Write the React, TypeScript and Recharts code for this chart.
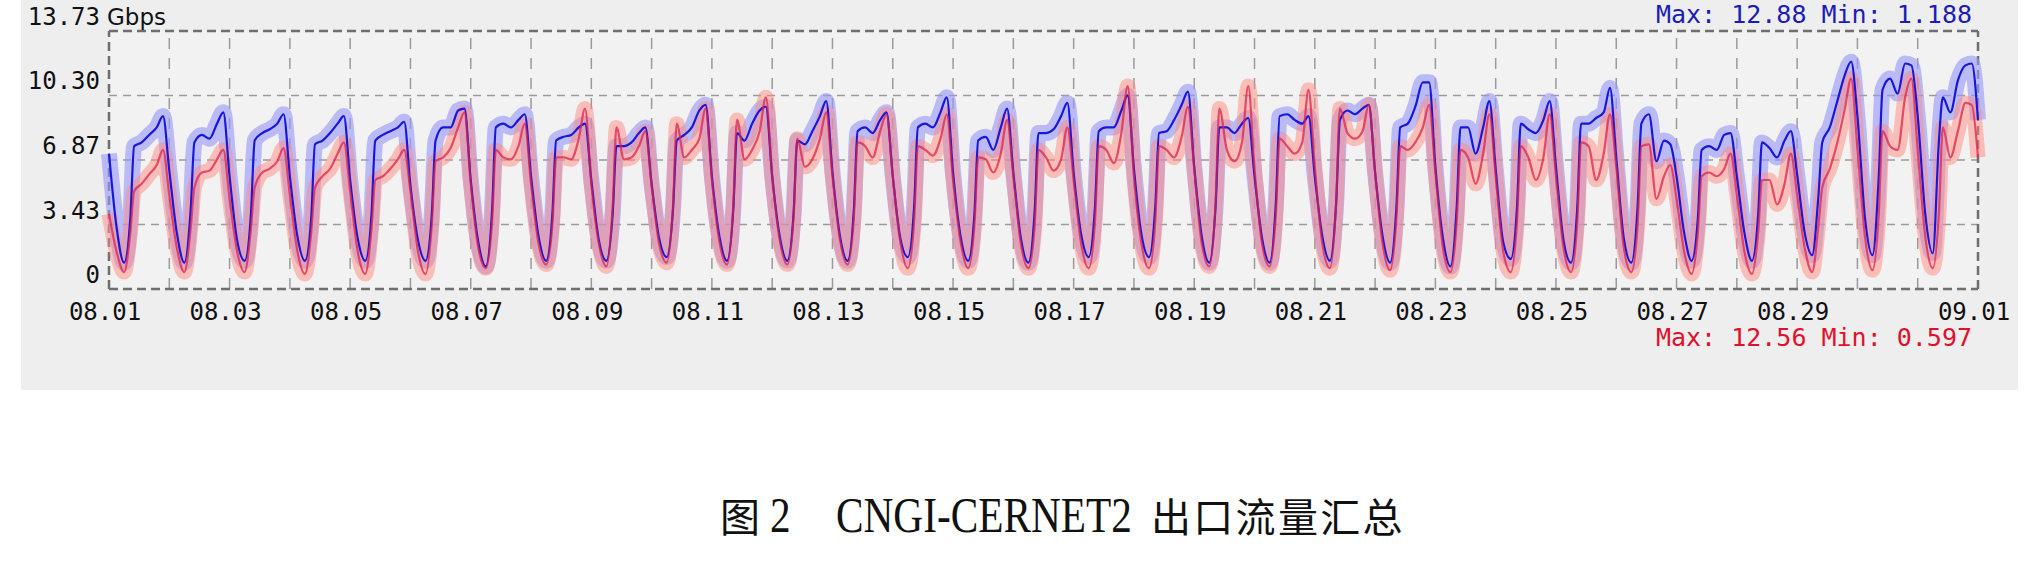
import React from 'react';
import { LineChart, Line, XAxis, YAxis, ReferenceLine, ReferenceArea } from 'recharts';

// sample hours inside each day (08.01 00:00 = day 0)
const HOURS = [0, 3, 6, 8.5, 10, 13, 16, 19, 21.5];

// blue series, Gbps, one row per day
const blueSeries = [
  [7.2, 3.3, 1.4, 3.8, 7.6, 7.8, 8.2, 8.6, 9.2],
  [6.3, 3.0, 1.4, 4.2, 7.8, 8.2, 8.0, 8.8, 9.4],
  [6.0, 2.6, 1.5, 4.0, 7.9, 8.3, 8.5, 8.8, 9.3],
  [6.0, 2.8, 1.5, 3.8, 7.7, 7.9, 8.3, 8.8, 9.2],
  [5.8, 2.7, 1.5, 4.0, 7.9, 8.2, 8.4, 8.6, 8.9],
  [5.5, 2.6, 1.5, 4.0, 7.9, 8.6, 8.6, 9.5, 9.6],
  [5.8, 2.5, 1.2, 4.2, 8.6, 8.8, 8.6, 9.0, 9.3],
  [6.0, 2.8, 1.5, 4.0, 7.9, 8.1, 8.2, 8.6, 8.8],
  [5.8, 2.6, 1.5, 4.0, 7.6, 7.6, 7.8, 8.3, 8.6],
  [5.6, 2.7, 1.7, 4.2, 7.9, 8.2, 8.6, 9.5, 9.8],
  [6.0, 2.8, 1.5, 4.2, 8.3, 7.9, 8.8, 9.5, 9.7],
  [6.0, 2.8, 1.5, 4.0, 7.9, 7.7, 8.4, 9.2, 10.0],
  [6.2, 2.8, 1.5, 4.2, 8.4, 8.6, 8.3, 9.0, 9.4],
  [6.0, 2.7, 1.7, 4.4, 8.6, 8.8, 8.6, 9.4, 10.2],
  [6.2, 2.8, 1.5, 4.0, 7.9, 8.1, 7.4, 8.6, 9.6],
  [6.2, 2.7, 1.4, 4.2, 8.3, 8.3, 8.5, 9.2, 9.9],
  [6.2, 2.9, 1.7, 4.4, 8.4, 8.6, 8.6, 9.5, 10.3],
  [6.4, 2.9, 1.7, 4.4, 8.3, 8.4, 9.0, 9.8, 10.5],
  [6.5, 2.8, 1.4, 4.4, 8.6, 8.6, 8.3, 8.8, 9.1],
  [6.0, 2.7, 1.4, 4.6, 9.2, 9.3, 9.0, 8.8, 9.2],
  [6.0, 2.8, 1.5, 4.6, 9.0, 9.5, 9.3, 9.6, 9.8],
  [6.2, 2.8, 1.4, 4.4, 8.6, 8.8, 9.7, 11.0, 11.0],
  [6.5, 2.7, 1.2, 4.4, 8.6, 8.6, 7.2, 8.6, 10.0],
  [6.4, 2.5, 1.6, 4.4, 8.8, 8.5, 8.3, 9.0, 10.0],
  [6.5, 2.6, 1.4, 4.4, 8.8, 8.8, 9.1, 9.4, 10.7],
  [7.0, 2.7, 1.4, 4.4, 8.8, 9.3, 6.8, 7.9, 7.7],
  [6.0, 3.0, 1.5, 3.8, 7.4, 7.6, 7.4, 8.2, 8.3],
  [6.0, 3.0, 1.5, 4.0, 7.8, 7.5, 7.0, 7.9, 8.4],
  [6.1, 3.0, 1.8, 5.0, 7.8, 8.6, 10.0, 11.4, 12.1],
  [9.2, 3.8, 1.8, 6.0, 10.6, 11.2, 10.4, 12.0, 11.9],
  [9.2, 4.0, 1.9, 8.0, 10.2, 9.4, 11.1, 11.9, 12.0],
];
const blueLast = 9.0;

// red series, Gbps, one row per day
const redSeries = [
  [4.0, 2.0, 0.9, 3.0, 5.2, 5.6, 6.1, 6.6, 7.4],
  [5.0, 2.2, 0.9, 3.2, 5.4, 6.2, 6.3, 6.9, 7.4],
  [4.8, 2.0, 0.9, 3.2, 5.4, 6.2, 6.4, 6.8, 7.5],
  [5.0, 2.0, 0.8, 3.0, 5.4, 6.0, 6.4, 7.2, 7.8],
  [5.2, 2.0, 0.8, 3.2, 5.8, 6.0, 6.4, 6.9, 7.4],
  [5.2, 2.0, 0.8, 3.4, 6.8, 7.0, 7.5, 8.6, 9.4],
  [5.6, 2.2, 1.1, 3.6, 7.4, 7.0, 6.9, 7.6, 8.8],
  [5.6, 2.4, 1.3, 3.4, 7.0, 7.0, 6.9, 8.0, 9.6],
  [5.6, 2.4, 1.2, 4.4, 8.6, 6.9, 7.0, 7.6, 8.4],
  [5.5, 2.4, 1.4, 4.4, 8.8, 7.0, 7.4, 8.0, 9.6],
  [5.8, 2.5, 1.3, 4.4, 9.0, 6.9, 7.4, 8.4, 10.2],
  [6.0, 2.6, 1.3, 3.8, 8.0, 6.5, 6.9, 8.0, 9.4],
  [6.0, 2.6, 1.3, 3.8, 7.8, 7.6, 7.0, 8.4, 9.3],
  [6.0, 2.5, 1.1, 3.6, 7.6, 7.4, 7.1, 8.0, 9.3],
  [5.8, 2.5, 1.1, 3.4, 7.0, 6.9, 6.2, 7.2, 9.0],
  [6.0, 2.4, 1.1, 3.4, 7.4, 7.0, 6.3, 6.9, 8.6],
  [5.8, 2.4, 1.1, 3.6, 7.6, 7.4, 6.7, 8.3, 10.8],
  [6.0, 2.4, 1.1, 3.6, 7.6, 7.4, 7.0, 8.1, 9.7],
  [6.4, 2.4, 1.2, 4.6, 9.6, 7.4, 6.8, 7.8, 10.8],
  [6.4, 2.4, 1.2, 4.0, 8.0, 7.6, 7.2, 7.8, 10.6],
  [6.5, 2.4, 1.1, 4.6, 9.6, 8.3, 8.0, 8.4, 9.8],
  [6.2, 2.4, 1.0, 3.8, 7.6, 7.4, 7.8, 8.6, 9.8],
  [6.2, 2.2, 0.9, 3.6, 7.4, 7.0, 5.6, 7.2, 9.3],
  [6.0, 2.0, 0.9, 3.6, 7.6, 7.0, 5.8, 7.0, 9.3],
  [6.0, 2.2, 0.9, 3.6, 7.8, 7.6, 5.8, 7.2, 9.3],
  [6.5, 2.2, 0.9, 3.4, 7.6, 7.7, 4.8, 6.0, 6.6],
  [4.8, 2.0, 0.8, 3.0, 6.0, 6.2, 6.0, 6.4, 7.2],
  [5.0, 2.0, 0.8, 3.0, 5.8, 5.8, 4.5, 5.6, 7.2],
  [5.0, 2.2, 0.9, 3.4, 5.4, 6.4, 7.8, 9.6, 11.2],
  [7.5, 2.8, 1.0, 4.0, 8.4, 7.6, 7.4, 10.2, 11.2],
  [7.4, 2.8, 1.1, 4.2, 8.6, 7.0, 8.4, 9.9, 9.8],
];
const redLast = 7.0;

const dayTicks = [0, 2, 4, 6, 8, 10, 12, 14, 16, 18, 20, 22, 24, 26, 28, 31];
const dayLabels = ['08.01', '08.03', '08.05', '08.07', '08.09', '08.11', '08.13', '08.15',
  '08.17', '08.19', '08.21', '08.23', '08.25', '08.27', '08.29', '09.01'];
const gridDays = [1, 2, 3, 4, 5, 6, 7, 8, 9, 10, 11, 12, 13, 14, 15, 16, 17, 18, 19, 20,
  21, 22, 23, 24, 25, 26, 27, 28, 29, 30];
const yTicks = [0, 3.43, 6.87, 10.3, 13.73];
const yLabels = ['0', '3.43', '6.87', '10.30', '13.73'];
const unit = 'Gbps';
const blueStats = 'Max: 12.88 Min: 1.188';
const redStats = 'Max: 12.56 Min: 0.597';

const data = blueSeries
  .flatMap((row, d) => row.map((v, i) => ({ t: d + HOURS[i] / 24, blue: v, red: redSeries[d][i] })))
  .concat([{ t: 31, blue: blueLast, red: redLast }]);

const MONO = '"DejaVu Sans Mono", monospace';
const SERIF = '"Liberation Serif", serif';
const CJK = '"Noto Sans CJK SC", sans-serif';

const XTick = (props: any) => {
  const { x, y, payload } = props;
  const i = dayTicks.indexOf(payload.value);
  return (
    <text x={x - 4} y={y + 31} textAnchor="middle" fontFamily={MONO} fontSize={24} fill="#111">
      {dayLabels[i]}
    </text>
  );
};

const YTick = (props: any) => {
  const { x, y, payload } = props;
  const i = yTicks.indexOf(payload.value);
  const top = i === yTicks.length - 1;
  return (
    <g>
      <text x={x} y={y - 6} textAnchor="end" fontFamily={MONO} fontSize={24} fill="#111">
        {yLabels[i]}
      </text>
      {top && (
        <text x={x + 7} y={y - 6} fontFamily='"DejaVu Sans", sans-serif' fontSize={23} fill="#111">
          {unit}
        </text>
      )}
    </g>
  );
};

export default function App() {
  return (
    <div style={{ position: 'absolute', left: 0, top: 0, width: 2030, height: 584, background: '#fff', overflow: 'hidden' }}>
      <div style={{ position: 'absolute', left: 21, top: 0, width: 1997, height: 390, background: '#eeeeee' }} />
      <div style={{ position: 'absolute', left: 0, top: 0 }}>
        <LineChart width={2030} height={400} data={data} margin={{ top: 31, right: 52, bottom: 71, left: 0 }}>
          <XAxis
            dataKey="t"
            type="number"
            domain={[0, 31]}
            ticks={dayTicks}
            interval={0}
            height={40}
            axisLine={false}
            tickLine={false}
            tickSize={0}
            tickMargin={0}
            tick={<XTick />}
          />
          <YAxis
            type="number"
            domain={[0, 13.73]}
            ticks={yTicks}
            interval={0}
            width={109}
            axisLine={false}
            tickLine={false}
            tickSize={0}
            tickMargin={9}
            tick={<YTick />}
            allowDataOverflow
          />
          <ReferenceArea x1={0} x2={31} y1={0} y2={13.73} fill="#f2f2f2" fillOpacity={1} stroke="none" />
          {gridDays.map((d) => (
            <ReferenceLine key={'v' + d} x={d} stroke="#9a9a9a" strokeWidth={1.5} strokeDasharray="11 9" />
          ))}
          {yTicks.slice(1, -1).map((v) => (
            <ReferenceLine key={'h' + v} y={v} stroke="#9a9a9a" strokeWidth={1.5} strokeDasharray="8 6" />
          ))}
          <ReferenceLine y={0} stroke="#6e6e6e" strokeWidth={2.5} strokeDasharray="9 5" />
          <ReferenceLine y={13.73} stroke="#6e6e6e" strokeWidth={2.5} strokeDasharray="9 5" />
          <ReferenceLine x={0} stroke="#6e6e6e" strokeWidth={2.5} strokeDasharray="9 5" />
          <ReferenceLine x={31} stroke="#6e6e6e" strokeWidth={2.5} strokeDasharray="9 5" />
          <Line dataKey="blue" type="monotone" stroke="#9898f8" strokeOpacity={0.62} strokeWidth={16} dot={false} activeDot={false} isAnimationActive={false} />
          <Line dataKey="red" type="monotone" stroke="#ff8a7c" strokeOpacity={0.5} strokeWidth={15} dot={false} activeDot={false} isAnimationActive={false} />
          <Line dataKey="blue" type="monotone" stroke="#1717e0" strokeWidth={2.2} dot={false} activeDot={false} isAnimationActive={false} />
          <Line dataKey="red" type="monotone" stroke="#e0204a" strokeOpacity={0.75} strokeWidth={2.2} dot={false} activeDot={false} isAnimationActive={false} />
        </LineChart>
      </div>
      <svg width={2030} height={584} style={{ position: 'absolute', left: 0, top: 0, pointerEvents: 'none' }}>
        <text x={1972} y={23} textAnchor="end" fontFamily={MONO} fontSize={25} fill="#1c1cb8">{blueStats}</text>
        <text x={1972} y={346} textAnchor="end" fontFamily={MONO} fontSize={25} fill="#e0102a">{redStats}</text>
        <g fill="#111">
          <text x={720} y={532} fontFamily={CJK} fontSize={40}>图</text>
          <text transform="translate(770 532) scale(0.826 1)" fontFamily={SERIF} fontSize={50}>2</text>
          <text transform="translate(836 532) scale(0.826 1)" fontFamily={SERIF} fontSize={50}>CNGI-CERNET2</text>
          <text x={1151} y={532} fontFamily={CJK} fontSize={40} letterSpacing={2.3}>出口流量汇总</text>
        </g>
      </svg>
    </div>
  );
}
